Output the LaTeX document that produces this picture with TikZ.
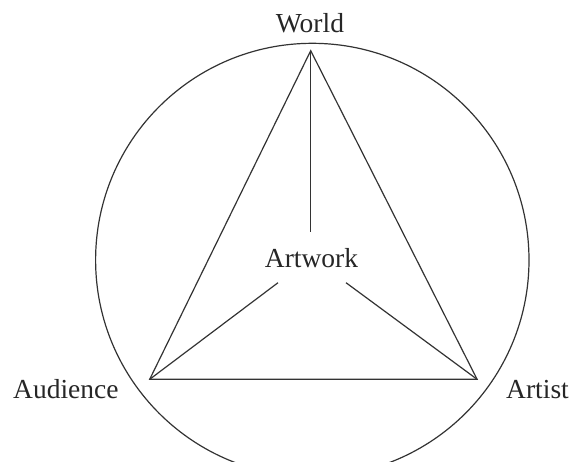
\documentclass[tikz,border=0pt]{standalone}
\usepackage{fontspec}
\setmainfont{Liberation Serif}
\begin{document}
\begin{tikzpicture}[x=1pt,y=-1pt,
  lbl/.style={font=\fontsize{27.5}{31}\selectfont,inner sep=0pt,text=black!85},
  edge/.style={line width=1.2pt,draw=black!80}]
\useasboundingbox (0,0) rectangle (569,461);
\begin{scope}
\clip (0,0) rectangle (569,461);
\draw[edge] (312.3,260) circle[radius=216.7];
\end{scope}
\coordinate (w) at (310.7,50.7);
\coordinate (au) at (149.7,379.3);
\coordinate (ar) at (477.1,379.3);
\coordinate (sw) at (310.7,231.7);
\coordinate (sl) at (278,282.7);
\coordinate (sr) at (346,282.7);
\node[lbl,anchor=base] (world) at (310,32) {World};
\node[lbl,anchor=base west] (audience) at (13,398) {Audience};
\node[lbl,anchor=base west] (artist) at (506,398) {Artist};
\node[lbl,anchor=base] (artwork) at (311.5,267) {Artwork};
\draw[edge,line join=miter] (w) -- (au) -- (ar) -- cycle;
\draw[edge] (w) -- (sw);
\draw[edge] (au) -- (sl);
\draw[edge] (ar) -- (sr);
\end{tikzpicture}
\end{document}
